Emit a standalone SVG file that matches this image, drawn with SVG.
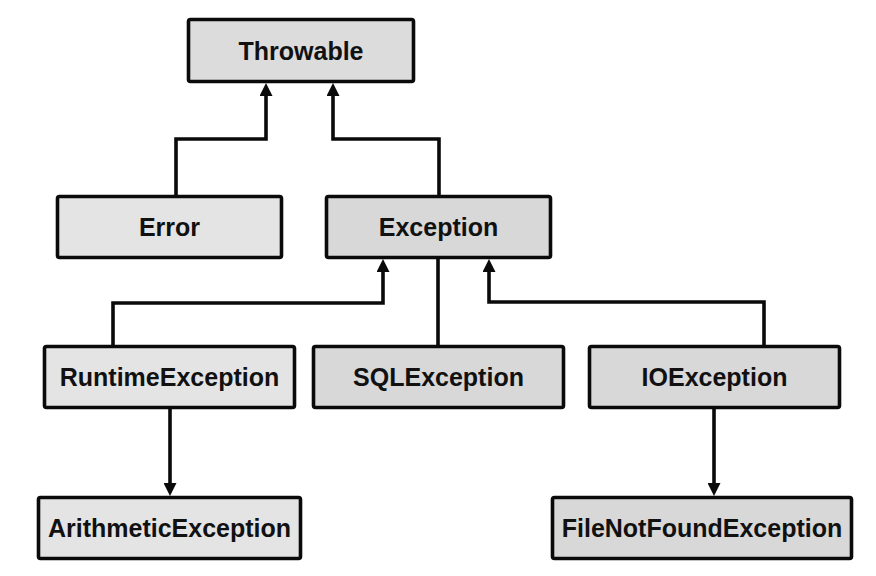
<svg xmlns="http://www.w3.org/2000/svg" width="876" height="576" viewBox="0 0 876 576">
<defs>
<style>
.box{stroke:#0a0a0a;stroke-width:3.6;}
.l{fill:#e4e4e4;}
.d{fill:#d8d8d8;}
.t{fill:#dcdcdc;}
text{font-family:"Liberation Sans",Arial,sans-serif;font-weight:bold;font-size:25px;fill:#111;text-anchor:middle;}
.c{fill:none;stroke:#0a0a0a;stroke-width:3.6;stroke-linejoin:miter;}
</style>
<marker id="ah" viewBox="0 0 13 13" refX="7" refY="6.5" markerWidth="13" markerHeight="13" markerUnits="userSpaceOnUse" orient="auto">
<path d="M0,0 L13,6.5 L0,13 z" fill="#0a0a0a"/>
</marker>
</defs>
<rect width="876" height="576" fill="#fff"/>
<g id="connectors">
<path class="c" d="M176 196 V139 H266 V89" marker-end="url(#ah)"/>
<path class="c" d="M439 196 V139 H333 V89" marker-end="url(#ah)"/>
<path class="c" d="M113 346 V303 H383 V265" marker-end="url(#ah)"/>
<path class="c" d="M438 346 V259"/>
<path class="c" d="M764 346 V302 H489 V265" marker-end="url(#ah)"/>
<path class="c" d="M170 409 V490" marker-end="url(#ah)"/>
<path class="c" d="M714 409 V490" marker-end="url(#ah)"/>
</g>
<g id="throwable"><rect class="box t" x="188.5" y="19.5" width="225" height="62" rx="2"/><text x="301" y="59.5">Throwable</text></g>
<g id="error"><rect class="box l" x="57.5" y="196.5" width="224" height="61" rx="2"/><text x="169.5" y="236">Error</text></g>
<g id="exception"><rect class="box d" x="326.5" y="196.5" width="224" height="61" rx="2"/><text x="438.5" y="236">Exception</text></g>
<g id="runtime"><rect class="box l" x="44.5" y="346.5" width="250" height="61" rx="2"/><text x="169.5" y="386">RuntimeException</text></g>
<g id="sql"><rect class="box d" x="313.5" y="346.5" width="250" height="61" rx="2"/><text x="438.5" y="386">SQLException</text></g>
<g id="io"><rect class="box d" x="589.5" y="346.5" width="250" height="61" rx="2"/><text x="714.5" y="386">IOException</text></g>
<g id="arithmetic"><rect class="box l" x="38.5" y="497.5" width="262" height="61" rx="2"/><text x="169.5" y="537">ArithmeticException</text></g>
<g id="filenotfound"><rect class="box d" x="552.5" y="497.5" width="299" height="61" rx="2"/><text x="702" y="537">FileNotFoundException</text></g>
</svg>
